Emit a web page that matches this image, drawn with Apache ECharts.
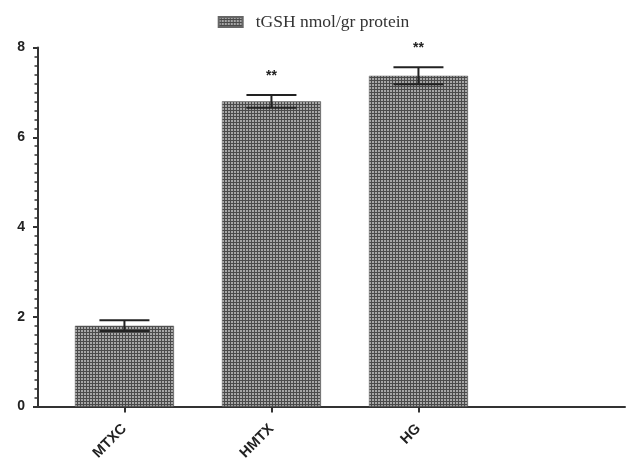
<!DOCTYPE html>
<html>
<head>
<meta charset="utf-8">
<script src="https://cdn.jsdelivr.net/npm/echarts@6/dist/echarts.min.js"></script>
<style>html,body{margin:0;padding:0;background:#fff}#c{width:627px;height:459px}</style>
</head>
<body>
<div id="c"></div>
<script>
const categories = ['MTXC', 'HMTX', 'HG'];
const means = [1.80, 6.80, 7.37];
const errors = [0.12, 0.14, 0.19];
const significance = ['', '**', '**'];
const yTicks = [0, 2, 4, 6, 8];
const seriesName = 'tGSH nmol/gr protein';

function makePattern() {
  const c = document.createElement('canvas');
  c.width = 3; c.height = 3;
  const ctx = c.getContext('2d');
  ctx.fillStyle = '#4a4a4a';
  ctx.fillRect(0, 0, 3, 3);
  ctx.fillStyle = '#a6a6a6';
  ctx.fillRect(0, 0, 2, 2);
  return c;
}
const pattern = { image: makePattern(), repeat: 'repeat' };

const positions = categories.map((_, i) => i + 1);
const barData = means.map((v, i) => [positions[i], v]);
const errData = means.map((v, i) => [positions[i], v, errors[i], significance[i]]);

const chart = echarts.init(document.getElementById('c'), null, { renderer: 'canvas' });
chart.setOption({
  animation: false,
  backgroundColor: '#fff',
  legend: {
    top: 8,
    left: 'center',
    data: [seriesName],
    itemWidth: 24,
    itemHeight: 10,
    icon: 'rect',
    textStyle: { fontFamily: 'Liberation Serif', fontSize: 17.5, color: '#333', padding: [0, 0, 0, 8] }
  },
  grid: { left: 38, right: 2, top: 47.5, bottom: 52.5, containLabel: false, outerBoundsMode: 'none' },
  xAxis: {
    type: 'value',
    min: 0.412,
    max: 4.405,
    splitLine: { show: false },
    axisLine: { show: true, onZero: false, lineStyle: { color: '#333', width: 2 } },
    axisTick: { show: true, customValues: positions, length: 6, lineStyle: { color: '#333', width: 2 } },
    axisLabel: {
      customValues: positions,
      rotate: 45,
      margin: 20,
      fontFamily: 'Liberation Sans',
      fontWeight: 'bold',
      fontSize: 14.5,
      color: '#222',
      formatter: v => categories[Math.round(v) - 1] || ''
    }
  },
  yAxis: {
    type: 'value',
    min: 0,
    max: 8,
    interval: 2,
    splitLine: { show: false },
    axisLine: { show: true, lineStyle: { color: '#333', width: 2 } },
    axisTick: { show: true, length: 5, lineStyle: { color: '#333', width: 2 } },
    minorTick: { show: true, splitNumber: 10, length: 3.5, lineStyle: { color: '#333', width: 1.5 } },
    minorSplitLine: { show: false },
    axisLabel: {
      margin: 13,
      fontFamily: 'Liberation Sans',
      fontWeight: 'bold',
      fontSize: 14,
      color: '#222',
      formatter: v => yTicks.includes(v) ? String(v) : ''
    }
  },
  series: [
    {
      name: seriesName,
      type: 'bar',
      barWidth: 99,
      data: barData,
      itemStyle: { color: pattern, borderColor: '#666', borderWidth: 0.5 }
    },
    {
      name: 'err',
      type: 'custom',
      data: errData,
      z: 10,
      renderItem: function (params, api) {
        const x = api.value(0), m = api.value(1), e = api.value(2);
        const sig = errData[params.dataIndex][3];
        const top = api.coord([x, m + e]);
        const bot = api.coord([x, m - e]);
        const hw = 25;
        const ls = { stroke: '#222', lineWidth: 2 };
        const children = [
          { type: 'line', shape: { x1: top[0], y1: top[1], x2: bot[0], y2: bot[1] }, style: ls },
          { type: 'line', shape: { x1: top[0] - hw, y1: top[1], x2: top[0] + hw, y2: top[1] }, style: ls },
          { type: 'line', shape: { x1: bot[0] - hw, y1: bot[1], x2: bot[0] + hw, y2: bot[1] }, style: ls }
        ];
        if (sig) {
          children.push({
            type: 'text',
            style: { text: sig, x: top[0], y: top[1] - 19, align: 'center', verticalAlign: 'middle',
              font: 'bold 14px "Liberation Sans"', fill: '#222' }
          });
        }
        return { type: 'group', children: children };
      }
    }
  ]
});
</script>
</body>
</html>
